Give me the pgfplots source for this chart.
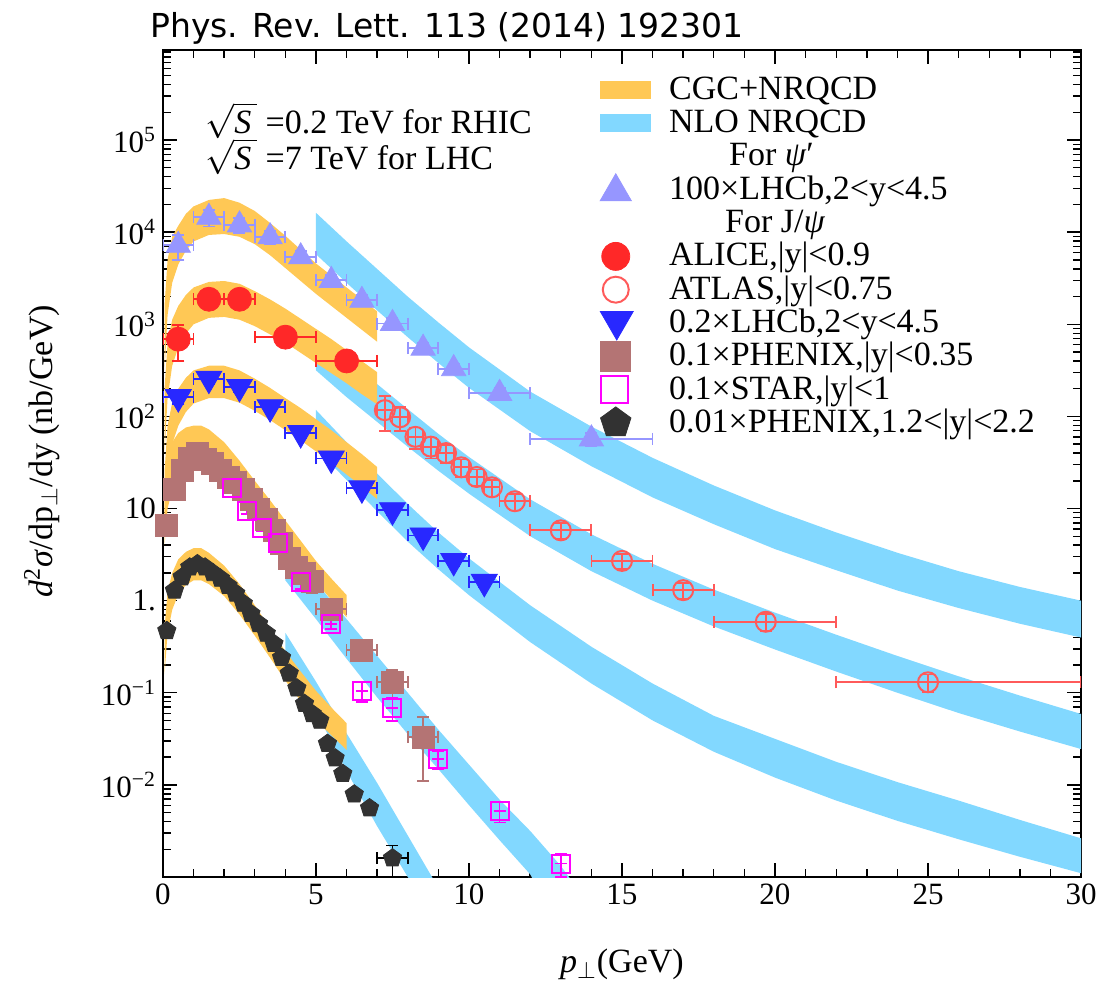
\documentclass[border=0pt]{standalone}
\usepackage{fontspec}
\setmainfont{Liberation Serif}
\newfontfamily\titlefont{DejaVu Sans}
\usepackage{pgfplots}
\usepackage{pgfplotstable}
\pgfplotsset{compat=1.18}
\usetikzlibrary{plotmarks}
\definecolor{cgc}{RGB}{255,200,85}
\definecolor{nlo}{RGB}{130,216,255}
\definecolor{psip}{RGB}{150,150,255}
\definecolor{alice}{RGB}{255,40,40}
\definecolor{atlas}{RGB}{255,90,90}
\definecolor{lhcb}{RGB}{40,40,255}
\definecolor{phenix}{RGB}{180,116,116}
\definecolor{star}{RGB}{255,0,255}
\definecolor{phfwd}{RGB}{50,50,50}

\pgfplotstableread{
x y exm exp ey
0.5 7200 0.5 0.5 2200
1.5 14500 0.5 0.5 3000
2.5 12000 0.5 0.5 2200
3.5 8900 0.5 0.5 1500
4.5 5400 0.5 0.5 800
5.5 3000 0.5 0.5 450
6.5 1820 0.5 0.5 260
7.5 1020 0.5 0.5 140
8.5 550 0.5 0.5 75
9.5 330 0.5 0.5 45
11 178 1 1 25
14 57 2 2 9
}\psip
\pgfplotstableread{
x y exm exp ey
0.5 690 0.5 0.5 290
1.5 1870 0.5 0.5 260
2.5 1870 0.5 0.5 250
4 725 1 1 100
6 400 1 1 55
}\alice
\pgfplotstableread{
x y exm exp ey
7.25 117 0.25 0.25 48
7.75 98 0.25 0.25 28
8.25 60 0.25 0.25 16
8.75 47 0.25 0.25 12
9.25 40 0.25 0.25 9
9.75 28 0.25 0.25 6
10.25 22 0.25 0.25 4.5
10.75 17 0.25 0.25 3.5
11.5 12 0.5 0.5 2.5
13 5.8 1 1 1.1
15 2.7 1 1 0.5
17 1.3 1 1 0.25
19.7 0.59 1.7 2.3 0.12
25 0.13 3 5 0.028
}\atlas
\pgfplotstableread{
x y exm exp ey
0.5 162 0.5 0.5 25
1.5 257 0.5 0.5 30
2.5 209 0.5 0.5 25
3.5 126 0.5 0.5 15
4.5 66 0.5 0.5 8
5.5 35 0.5 0.5 4
6.5 16.6 0.5 0.5 2
7.5 9.6 0.5 0.5 1.1
8.5 5.1 0.5 0.5 0.6
9.5 2.7 0.5 0.5 0.32
10.5 1.6 0.5 0.5 0.2
}\lhcb
\pgfplotstableread{
x y exm exp ey
0.125 6.5 0.125 0.125 0.8
0.375 16 0.125 0.125 1.5
0.625 26 0.125 0.125 2.5
0.875 35 0.125 0.125 3
1.125 40 0.125 0.125 3.5
1.375 34 0.125 0.125 3
1.625 31 0.125 0.125 3
1.875 26 0.125 0.125 2.5
2.125 22 0.125 0.125 2
2.375 19 0.125 0.125 1.8
2.625 16 0.125 0.125 1.5
2.875 12.5 0.125 0.125 1.2
3.125 9.8 0.125 0.125 1
3.375 7.6 0.125 0.125 0.8
3.625 5.8 0.125 0.125 0.6
3.875 4.2 0.125 0.125 0.45
4.125 2.9 0.125 0.125 0.35
4.375 2.3 0.125 0.125 0.3
4.625 2.0 0.125 0.125 0.45
4.875 1.6 0.125 0.125 0.4
5.5 0.81 0.5 0.5 0.12
6.5 0.29 0.5 0.5 0.07
7.5 0.13 0.5 0.5 0.045
8.5 0.033 0.5 0.5 0.022
}\phenix
\pgfplotstableread{
x y exm exp ey
2.25 16.6 0 0 1.2
2.75 9.5 0 0 0.8
3.25 6.2 0 0 0.5
3.75 4.2 0 0 0.35
4.5 1.6 0 0 0.25
5.5 0.56 0 0 0.07
6.5 0.105 0 0 0.025
7.5 0.069 0 0 0.02
9 0.019 0 0 0.004
11 0.0052 0 0 0.0013
13 0.0014 0 0 0.0004
}\star
\pgfplotstableread{
x y exm exp ey
0.125 0.47 0.125 0.125 0.04
0.375 1.29 0.125 0.125 0.1
0.625 1.8 0.125 0.125 0.12
0.875 2.3 0.125 0.125 0.15
1.125 2.5 0.125 0.125 0.15
1.375 2.3 0.125 0.125 0.15
1.625 2.0 0.125 0.125 0.13
1.875 1.74 0.125 0.125 0.11
2.125 1.45 0.125 0.125 0.1
2.375 1.2 0.125 0.125 0.08
2.625 0.93 0.125 0.125 0.06
2.875 0.72 0.125 0.125 0.05
3.125 0.56 0.125 0.125 0.04
3.375 0.44 0.125 0.125 0.03
3.625 0.34 0.125 0.125 0.025
3.875 0.24 0.125 0.125 0.02
4.125 0.162 0.125 0.125 0.014
4.375 0.112 0.125 0.125 0.01
4.625 0.076 0.125 0.125 0.007
4.875 0.059 0.125 0.125 0.006
5.125 0.05 0.125 0.125 0.005
5.375 0.028 0.125 0.125 0.003
5.625 0.0195 0.125 0.125 0.0025
5.875 0.0132 0.125 0.125 0.0018
6.25 0.0079 0.125 0.125 0.001
6.75 0.0056 0.125 0.125 0.0008
7.5 0.0016 0.5 0.5 0.0006
}\phfwd

\pgfplotsset{
  dmarks/.style={only marks, forget plot},
  ebars/.style={forget plot, draw=none, mark=none,
    error bars/.cd, x dir=both, x explicit, y dir=both, y explicit,
    error bar style={draw=#1, line width=0.9pt},
    error mark options={rotate=90, mark size=3pt, draw=#1, line width=0.9pt}},
  band/.style={fill=#1, draw=none, forget plot},
}

\begin{document}
\begin{tikzpicture}
\useasboundingbox (-81.5pt,-54.5pt) rectangle (468pt,438.5pt);
\begin{axis}[
  at={(0pt,0pt)}, anchor=south west,
  scale only axis, width=459pt, height=413.5pt,
  xmin=0, xmax=30, ymin=1e-3, ymax=9.5e5, ymode=log,
  axis line style={line width=0.8pt},
  every tick/.style={black, line width=0.7pt},
  major tick length=7pt, minor tick length=4pt,
  xtick={0,5,...,30}, minor x tick num=4,
  ytick={1e-2,1e-1,1,10,100,1e3,1e4,1e5},
  yticklabels={10\textsuperscript{−2},10\textsuperscript{−1},1.,10,10\textsuperscript{2},10\textsuperscript{3},10\textsuperscript{4},10\textsuperscript{5}},
  minor ytick={2e-3,3e-3,4e-3,5e-3,6e-3,7e-3,8e-3,9e-3,
    2e-2,3e-2,4e-2,5e-2,6e-2,7e-2,8e-2,9e-2,
    0.2,0.3,0.4,0.5,0.6,0.7,0.8,0.9,
    2,3,4,5,6,7,8,9,
    20,30,40,50,60,70,80,90,
    200,300,400,500,600,700,800,900,
    2000,3000,4000,5000,6000,7000,8000,9000,
    2e4,3e4,4e4,5e4,6e4,7e4,8e4,9e4,
    2e5,3e5,4e5,5e5,6e5,7e5,8e5,9e5},
  tick label style={font=\fontsize{15.5}{17}\selectfont},
  xticklabel style={/pgf/number format/assume math mode=true},
  xlabel={{\itshape p}$_\perp$(GeV)},
  xlabel style={at={(axis description cs:0.5,-0.106)}, anchor=center, font=\fontsize{17}{19}\selectfont},
  ylabel={{\itshape d}\textsuperscript{2}{\itshape σ}/dp$_\perp$/dy (nb/GeV)},
  ylabel style={at={(axis description cs:-0.132,0.515)}, anchor=center, font=\fontsize{17}{19}\selectfont},
  legend style={at={(axis description cs:0.476,0.9698)}, anchor=north west, draw=none, fill=none,
    inner sep=0pt, row sep=2.15pt, column sep=9pt, font=\fontsize{17}{18}\selectfont,
    nodes={inner xsep=0pt, inner ysep=0pt, text height=12pt, text depth=2.5pt}},
  legend cell align=left,
]
% ---------- NLO NRQCD bands ----------
\addplot[band=nlo] coordinates {(5,16220) (6,7943) (7,3981) (8,1995) (9,1047) (10,562) (12,186) (14,77.6) (16,35.5) (18,17.8) (20,9.55) (22,5.50) (24,3.31) (26,2.09) (28,1.41) (30,1.0)
 (30,0.398) (28,0.562) (26,0.832) (24,1.288) (22,2.14) (20,3.63) (18,6.76) (16,13.2) (14,28.8) (12,69.2) (10,204) (9,380) (8,724) (7,1413) (6,2818) (5,5754)} -- cycle;
\addplot[band=nlo] coordinates {(5,851) (6,427) (7,224) (8,120) (9,64.6) (10,36.3) (12,12.6) (14,5.25) (16,2.51) (18,1.318) (20,0.741) (22,0.427) (24,0.251) (26,0.151) (28,0.0933) (30,0.0589)
 (30,0.0245) (28,0.0380) (26,0.0603) (24,0.1) (22,0.170) (20,0.295) (18,0.525) (16,1.0) (14,2.09) (12,5.01) (10,14.5) (9,25.7) (8,46.8) (7,87.1) (6,162) (5,316)} -- cycle;
\addplot[band=nlo] coordinates {(5,117.5) (6,52.5) (7,24.0) (8,11.2) (9,5.50) (10,2.88) (12,0.891) (14,0.316) (16,0.126) (18,0.0562) (20,0.0316) (22,0.0178) (24,0.01072) (26,0.00676) (28,0.00417) (30,0.00263)
 (30,0.0011) (28,0.00166) (26,0.00257) (24,0.00407) (22,0.00676) (20,0.0120) (18,0.0229) (16,0.0501) (14,0.126) (12,0.355) (10,1.148) (9,2.19) (8,4.37) (7,9.33) (6,20.4) (5,44.7)} -- cycle;
\addplot[band=nlo] coordinates {(4,3.98) (5,1.585) (6,0.631) (7,0.251) (8,0.1) (9,0.0398) (10,0.0166) (11,0.00692) (12,0.00316) (13,0.00132) (13.6,0.000708)
 (12.3,0.000708) (12,0.00107) (11,0.00251) (10,0.00603) (9,0.0148) (8,0.0355) (7,0.0891) (6,0.234) (5,0.631) (4,1.66)} -- cycle;
\addplot[band=nlo] coordinates {(4,0.447) (5,0.132) (6,0.0363) (7,0.01047) (8,0.00282) (9,0.00076)
 (8.3,0.0007) (8,0.001) (7,0.00355) (6,0.0141) (5,0.0631) (4,0.282)} -- cycle;
% ---------- CGC+NRQCD bands ----------
\addplot[band=cgc] coordinates {(0.05,1585) (0.15,5012) (0.3,8913) (0.5,11750) (0.75,15850) (1,19050) (1.5,22390) (2,23440) (2.5,20890) (3,16980) (3.5,12590) (4,9120) (4.5,6457) (5,4571) (5.5,3388) (6,2512) (6.5,1862) (7,1380)
 (7,646) (6.5,871) (6,1175) (5.5,1585) (5,2138) (4.5,2951) (4,4074) (3.5,5623) (3,7413) (2.5,8913) (2,9550) (1.5,9333) (1,7943) (0.75,6310) (0.5,4467) (0.3,2818) (0.15,1259) (0.05,316)} -- cycle;
\addplot[band=cgc] coordinates {(0.05,200) (0.15,631) (0.3,1122) (0.5,1585) (0.75,2089) (1,2512) (1.5,2884) (2,2951) (2.5,2754) (3,2291) (3.5,1862) (4,1479) (4.5,1148) (5,891) (5.5,692) (6,525) (6.5,398) (7,302)
 (7,135) (6.5,174) (6,229) (5.5,295) (5,380) (4.5,490) (4,631) (3.5,776) (3,955) (2.5,1122) (2,1202) (1.5,1175) (1,1000) (0.75,794) (0.5,562) (0.3,355) (0.15,158) (0.05,39.8)} -- cycle;
\addplot[band=cgc] coordinates {(0.05,25.1) (0.15,79.4) (0.3,141) (0.5,200) (0.75,263) (1,316) (1.5,355) (2,355) (2.5,316) (3,257) (3.5,204) (4,158) (4.5,123) (5,93.3) (5.5,70.8) (6,52.5) (6.5,38.9) (7,28.2)
 (7,12.6) (6.5,17.4) (6,23.4) (5.5,31.6) (5,41.7) (4.5,55.0) (4,70.8) (3.5,91.2) (3,115) (2.5,141) (2,158) (1.5,158) (1,138) (0.75,112) (0.5,79.4) (0.3,50.1) (0.15,22.4) (0.05,6.31)} -- cycle;
\addplot[band=cgc] coordinates {(0.05,15.8) (0.15,35.5) (0.3,52.5) (0.5,66.1) (0.75,75.9) (1,79.4) (1.25,79.4) (1.5,72.4) (2,52.5) (2.5,33.1) (3,20.0) (3.5,12.3) (4,7.41) (4.5,4.47) (5,2.69) (5.5,1.74) (6,1.15)
 (6,0.661) (5.5,1.023) (5,1.585) (4.5,2.57) (4,4.17) (3.5,6.76) (3,10.7) (2.5,16.6) (2,24.0) (1.5,30.2) (1.25,31.6) (1,30.2) (0.75,26.3) (0.5,20.9) (0.3,15.8) (0.15,10) (0.05,3.98)} -- cycle;
\addplot[band=cgc] coordinates {(0.05,0.501) (0.15,1.259) (0.3,1.995) (0.5,2.818) (0.75,3.388) (1,3.715) (1.25,3.715) (1.5,3.311) (2,2.399) (2.5,1.514) (3,0.891) (3.5,0.501) (4,0.282) (4.5,0.170) (5,0.1047) (5.5,0.0692) (6,0.0468)
 (6,0.0240) (5.5,0.0347) (5,0.0501) (4.5,0.0813) (4,0.135) (3.5,0.240) (3,0.417) (2.5,0.708) (2,1.122) (1.5,1.514) (1.25,1.660) (1,1.660) (0.75,1.479) (0.5,1.175) (0.3,0.794) (0.15,0.447) (0.05,0.158)} -- cycle;
% ---------- data ----------
\addplot[dmarks, mark=triangle*, mark size=7pt, color=psip, mark options={fill=psip}] table[x=x,y=y] {\psip};
\addplot[ebars=psip] table[x=x,y=y,x error minus=exm,x error plus=exp,y error=ey] {\psip};
\addplot[dmarks, mark=*, mark size=6pt, color=alice, mark options={fill=alice}] table[x=x,y=y] {\alice};
\addplot[ebars=alice] table[x=x,y=y,x error minus=exm,x error plus=exp,y error=ey] {\alice};
\addplot[dmarks, mark=o, mark size=5pt, color=atlas, mark options={line width=1pt}] table[x=x,y=y] {\atlas};
\addplot[ebars=atlas] table[x=x,y=y,x error minus=exm,x error plus=exp,y error=ey] {\atlas};
\addplot[dmarks, mark=triangle*, mark size=7.5pt, color=lhcb, mark options={fill=lhcb, rotate=180}] table[x=x,y=y] {\lhcb};
\addplot[ebars=lhcb] table[x=x,y=y,x error minus=exm,x error plus=exp,y error=ey] {\lhcb};
\addplot[dmarks, mark=square*, mark size=5.5pt, color=phenix, mark options={fill=phenix}] table[x=x,y=y] {\phenix};
\addplot[ebars=phenix] table[x=x,y=y,x error minus=exm,x error plus=exp,y error=ey] {\phenix};
\addplot[dmarks, mark=square, mark size=4.5pt, color=star, mark options={line width=1pt}] table[x=x,y=y] {\star};
\addplot[ebars=star] table[x=x,y=y,x error minus=exm,x error plus=exp,y error=ey] {\star};
\addplot[dmarks, mark=pentagon*, mark size=4.8pt, color=phfwd, mark options={fill=phfwd}] table[x=x,y=y] {\phfwd};
\addplot[ebars=black] table[x=x,y=y,x error minus=exm,x error plus=exp,y error=ey] {\phfwd};
% ---------- annotation ----------
\node[anchor=west, font=\fontsize{17}{18}\selectfont, inner sep=0pt] at (axis description cs:0.046,0.915) {$\sqrt{\mbox{\itshape S}\,}$ =0.2 TeV for RHIC};
\node[anchor=west, font=\fontsize{17}{18}\selectfont, inner sep=0pt] at (axis description cs:0.046,0.871) {$\sqrt{\mbox{\itshape S}\,}$ =7 TeV for LHC};
% ---------- legend ----------
\addlegendimage{legend image code/.code={\fill[cgc] (0pt,-4.25pt) rectangle (25pt,4.25pt);}}
\addlegendentry{CGC+NRQCD}
\addlegendimage{legend image code/.code={\fill[nlo] (0pt,-4.25pt) rectangle (25pt,4.25pt);}}
\addlegendentry{NLO NRQCD}
\addlegendimage{empty legend}
\addlegendentry{\hspace*{30pt}For \textit{ψ}′}
\addlegendimage{legend image code/.code={\pgfinterruptboundingbox\draw[psip,fill=psip] plot[only marks,mark=triangle*,mark size=9pt] coordinates {(7.5pt,-1pt)};\endpgfinterruptboundingbox\path[draw=none,fill=none] (0pt,-4pt) rectangle (25pt,4pt);}}
\addlegendentry{100×LHCb,2<y<4.5}
\addlegendimage{empty legend}
\addlegendentry{\hspace*{28pt}For J/\textit{ψ}}
\addlegendimage{legend image code/.code={\pgfinterruptboundingbox\draw[alice,fill=alice] plot[only marks,mark=*,mark size=7pt] coordinates {(7.5pt,0pt)};\endpgfinterruptboundingbox\path[draw=none,fill=none] (0pt,-4pt) rectangle (25pt,4pt);}}
\addlegendentry{ALICE,|y|<0.9}
\addlegendimage{legend image code/.code={\pgfinterruptboundingbox\draw[atlas,line width=1pt] plot[only marks,mark=o,mark size=6.5pt] coordinates {(7.5pt,0pt)};\endpgfinterruptboundingbox\path[draw=none,fill=none] (0pt,-4pt) rectangle (25pt,4pt);}}
\addlegendentry{ATLAS,|y|<0.75}
\addlegendimage{legend image code/.code={\pgfinterruptboundingbox\draw[lhcb,fill=lhcb] plot[only marks,mark=triangle*,mark size=9.5pt,mark options={rotate=180}] coordinates {(8pt,1pt)};\endpgfinterruptboundingbox\path[draw=none,fill=none] (0pt,-4pt) rectangle (25pt,4pt);}}
\addlegendentry{0.2×LHCb,2<y<4.5}
\addlegendimage{legend image code/.code={\pgfinterruptboundingbox\draw[phenix,fill=phenix] plot[only marks,mark=square*,mark size=7.5pt] coordinates {(7.5pt,0pt)};\endpgfinterruptboundingbox\path[draw=none,fill=none] (0pt,-4pt) rectangle (25pt,4pt);}}
\addlegendentry{0.1×PHENIX,|y|<0.35}
\addlegendimage{legend image code/.code={\pgfinterruptboundingbox\draw[star,line width=1pt] plot[only marks,mark=square,mark size=6.8pt] coordinates {(7pt,0pt)};\endpgfinterruptboundingbox\path[draw=none,fill=none] (0pt,-4pt) rectangle (25pt,4pt);}}
\addlegendentry{0.1×STAR,|y|<1}
\addlegendimage{legend image code/.code={\pgfinterruptboundingbox\draw[phfwd,fill=phfwd] plot[only marks,mark=pentagon*,mark size=8pt] coordinates {(7.5pt,0pt)};\endpgfinterruptboundingbox\path[draw=none,fill=none] (0pt,-4pt) rectangle (25pt,4pt);}}
\addlegendentry{0.01×PHENIX,1.2<|y|<2.2}
\end{axis}
\node[anchor=west, inner sep=0pt, font=\titlefont\fontsize{16.5}{18}\selectfont] at (-6.5pt,424.5pt) {Phys. Rev. Lett. 113 (2014) 192301};
\end{tikzpicture}
\end{document}
